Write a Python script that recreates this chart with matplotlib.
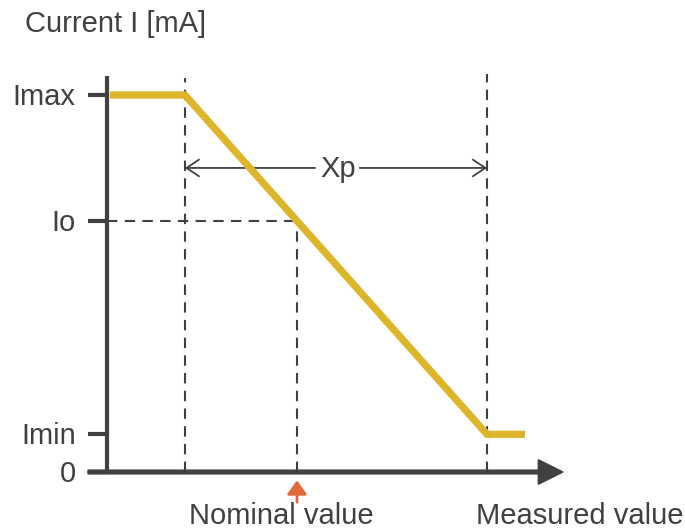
import matplotlib
matplotlib.use('Agg')
import matplotlib.pyplot as plt
from matplotlib import rcParams

rcParams['font.family'] = ['Liberation Sans', 'DejaVu Sans']
rcParams['font.size'] = 21

# schematic values (abstract units)
curve_x = [0.15, 4.1, 20, 22]
imax, imin, io = 20, 2, 13.3
curve_y = [imax, imax, imin, imin]
x_start, x_nominal, x_end = 4.1, 10, 20
tick_vals = [imax, io, imin, 0]
tick_labels = ['Imax', 'Io', 'Imin', '0']

GRAY = '#404040'
GOLD = '#DDB52A'
ORANGE = '#E0683A'

fig = plt.figure(figsize=(6.85, 5.29), dpi=100)
ax = fig.add_axes([0, 0, 1, 1])
ax.set_xlim(-107 / 19, 578 / 19)
ax.set_ylim(-57 / 18.85, 472 / 18.85)
ax.axis('off')

# axes
ax.plot([0, 0], [-0.1, 21], color=GRAY, lw=3, solid_capstyle='butt', zorder=3)
ax.arrow(-1, 0, 25, 0, width=0.2, head_width=1.3, head_length=1.3,
         length_includes_head=True, color=GRAY, zorder=3)

# y ticks and labels
for v, lab in zip(tick_vals, tick_labels):
    ax.plot([-1, 0], [v, v], color=GRAY, lw=3, solid_capstyle='butt', zorder=3)
    ax.text(-1.65, v - 0.1, lab, ha='right', va='center', color=GRAY)

# dashed guides
dash = dict(color=GRAY, lw=1.5, dashes=(5, 3.5), zorder=1)
ax.plot([x_start, x_start], [0, 20.9], **dash)
ax.plot([x_end, x_end], [0, 21.1], **dash)
ax.plot([x_nominal, x_nominal], [0, io], **dash)
ax.plot([0, x_nominal], [io, io], **dash)

# characteristic
ax.plot(curve_x, curve_y, color=GOLD, lw=5.2, solid_joinstyle='miter',
        solid_capstyle='butt', zorder=4)

# Xp span
y_xp = 16.13
xp_arrow = dict(arrowstyle='->,head_length=0.6,head_width=0.4', color=GRAY,
                lw=1.3, mutation_scale=15, shrinkA=0, shrinkB=0)
ax.annotate('', xy=(x_start, y_xp), xytext=(10.95, y_xp), arrowprops=xp_arrow, zorder=2)
ax.annotate('', xy=(x_end, y_xp), xytext=(13.3, y_xp), arrowprops=xp_arrow, zorder=2)
ax.text(12.15, y_xp - 0.05, 'Xp', ha='center', va='center', color=GRAY)

# nominal marker
ax.annotate('', xy=(x_nominal, -0.45), xytext=(x_nominal, -1.6),
            arrowprops=dict(arrowstyle='-|>,head_length=0.55,head_width=0.4',
                            color=ORANGE, lw=2, mutation_scale=15,
                            shrinkA=0, shrinkB=0))

ax.text(9.16, -2.35, 'Nominal value', ha='center', va='center', color=GRAY)
ax.text(24.9, -2.35, 'Measured value', ha='center', va='center', color=GRAY)
ax.text(-4.3, 23.75, 'Current I [mA]', ha='left', va='center', color=GRAY)

plt.savefig('out.png', dpi=100)
plt.close()
